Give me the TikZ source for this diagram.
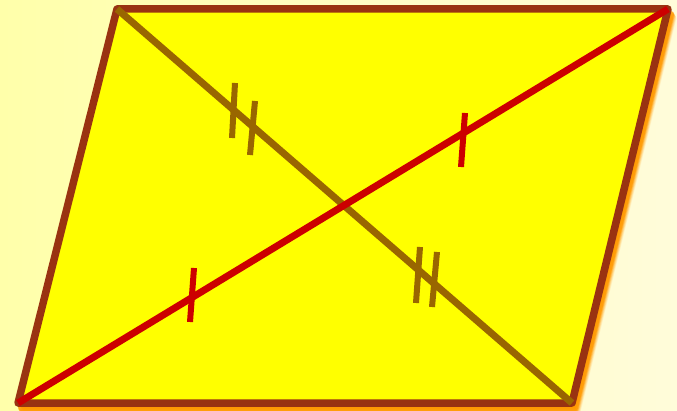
\documentclass[tikz,border=0pt]{standalone}
\usepackage{tikz}
\usetikzlibrary{calc}
\definecolor{bgleft}{HTML}{FFFFAA}
\definecolor{bgright}{HTML}{FFFCDA}
\definecolor{rimbrown}{HTML}{993311}
\definecolor{diagbrown}{HTML}{996600}
\definecolor{diagred}{HTML}{CC0000}
\definecolor{glow}{HTML}{FF9900}
\definecolor{plainyellow}{HTML}{FFFF00}
\tikzset{
  rim/.style={draw=rimbrown,line width=7.5pt,line join=round,fill=plainyellow},
  diag/.style={line width=7pt},
  tick/.style={line width=6pt},
}

\begin{document}
\begin{tikzpicture}[x=1pt,y=-1pt]
  \useasboundingbox (0,0) rectangle (677,411);
  \shade[left color=bgleft,right color=bgright] (0,0) rectangle (677,411);
  % corners of the parallelogram
  \coordinate (A) at (18,403);
  \coordinate (B) at (572,403);
  \coordinate (C) at (668,9);
  \coordinate (D) at (117,9);
  % soft orange shadow
  \foreach \s/\o in {9/0.12,8/0.2,7/0.3,6/0.45,5/0.7}
    \fill[glow,opacity=\o,line join=round,draw=glow,line width=6pt]
      ($(A)+(\s*0.6,\s)$) -- ($(B)+(\s*0.6,\s)$) -- ($(C)+(\s*0.6,\s)$) -- ($(D)+(\s*0.6,\s)$) -- cycle;
  \draw[rim] (A) -- (B) -- (C) -- (D) -- cycle;
  % diagonals
  \draw[diag,diagbrown] (D) -- (B);
  \draw[diag,diagred] (A) -- (C);
  % equal halves
  \draw[tick,diagred] (194,268) -- (190,322);
  \draw[tick,diagred] (465,113) -- (461,167);
  \draw[tick,diagbrown] (235,83) -- (232,138);
  \draw[tick,diagbrown] (255,101) -- (250,155);
  \draw[tick,diagbrown] (420,247) -- (416,303);
  \draw[tick,diagbrown] (437,252) -- (432,307);
\end{tikzpicture}
\end{document}
